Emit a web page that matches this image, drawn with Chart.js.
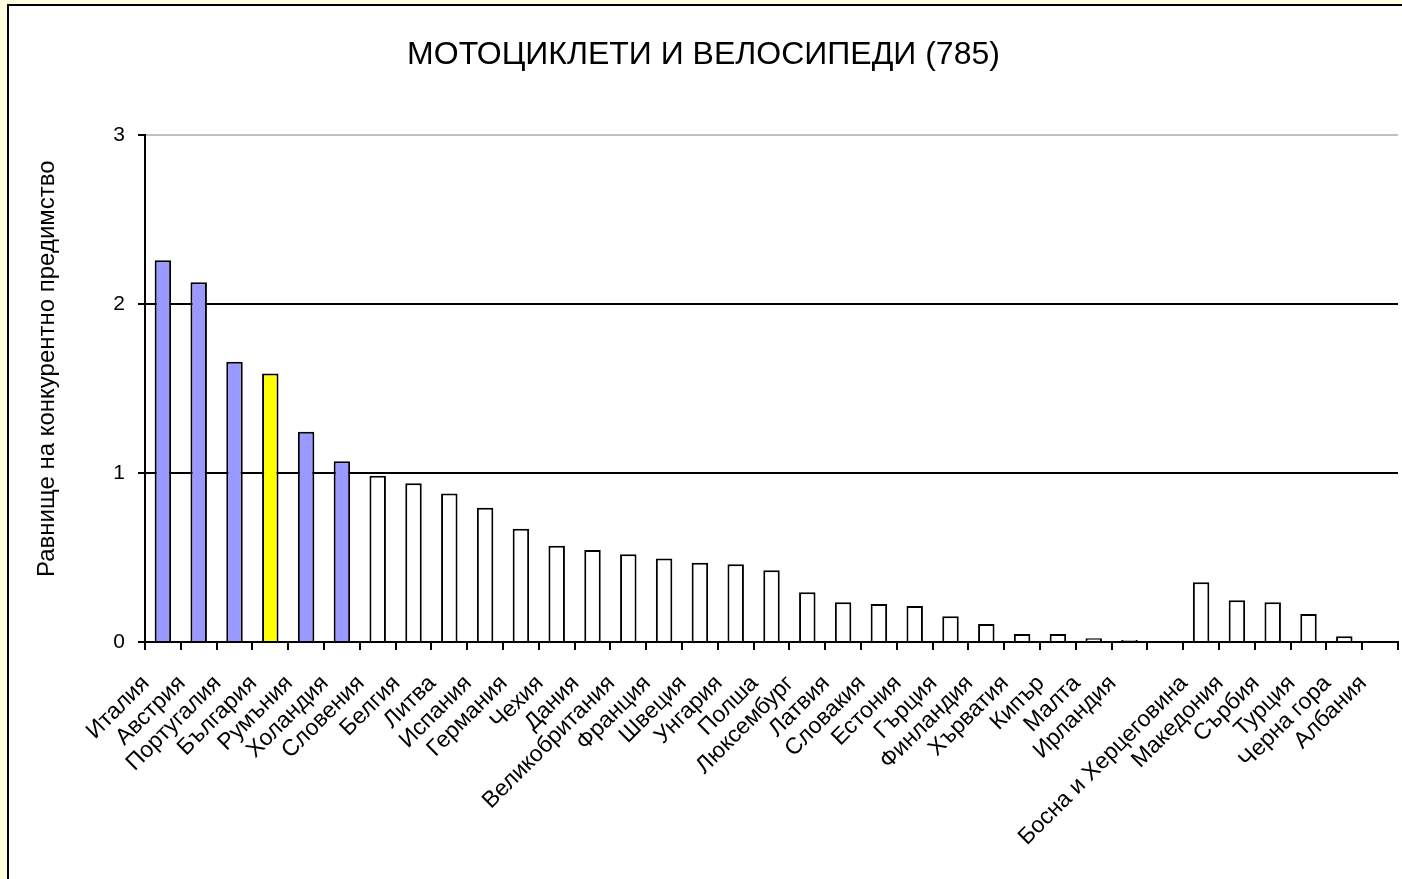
<!DOCTYPE html>
<html>
<head>
<meta charset="utf-8">
<script src="https://cdn.jsdelivr.net/npm/chart.js@4.4.1/dist/chart.umd.min.js"></script>
<style>
  html, body { margin: 0; padding: 0; background: #FFFFE0; }
  canvas { display: block; }
</style>
</head>
<body>
<canvas id="c" width="1402" height="879"></canvas>
<script>
// ---- data ----
const chartTitle = 'МОТОЦИКЛЕТИ И ВЕЛОСИПЕДИ (785)';
const yAxisTitle = 'Равнище на конкурентно предимство';
const categories = ['Италия','Австрия','Португалия','България','Румъния','Холандия','Словения','Белгия','Литва','Испания','Германия','Чехия','Дания','Великобритания','Франция','Швеция','Унгария','Полша','Люксембург','Латвия','Словакия','Естония','Гърция','Финландия','Хърватия','Кипър','Малта','Ирландия','','Босна и Херцеговина','Македония','Сърбия','Турция','Черна гора','Албания'];
const values = [2.26,2.13,1.66,1.59,1.245,1.07,0.985,0.94,0.88,0.795,0.67,0.57,0.545,0.52,0.495,0.47,0.46,0.425,0.295,0.235,0.225,0.213,0.152,0.107,0.047,0.047,0.022,0.012,null,0.354,0.247,0.235,0.166,0.034,null];
const leaders = ['Италия','Австрия','Португалия','Румъния','Холандия'];
const focusCountry = 'България';
const yTicks = [0, 1, 2, 3];

const barColors = categories.map(c => c === focusCountry ? '#FFFF00' : (leaders.includes(c) ? '#9999FF' : '#FFFFFF'));
const FONT = 'Liberation Sans, Arial, sans-serif';

const framePlugin = {
  id: 'frame',
  beforeDraw(chart) {
    const ctx = chart.ctx;
    ctx.save();
    ctx.fillStyle = '#FFFFE0';
    ctx.fillRect(0, 0, chart.width, chart.height);
    ctx.fillStyle = '#FFFFFF';
    ctx.fillRect(9, 6, chart.width - 9, chart.height - 6);
    ctx.fillStyle = '#000000';
    ctx.fillRect(7, 4, 2, chart.height - 4);
    ctx.fillRect(7, 4, chart.width - 7, 2);
    ctx.restore();
  }
};

new Chart(document.getElementById('c'), {
  type: 'bar',
  data: {
    labels: categories,
    datasets: [{
      data: values,
      backgroundColor: barColors,
      borderColor: '#000000',
      borderWidth: 2,
      borderSkipped: 'start',
      barPercentage: 0.46,
      categoryPercentage: 1.0
    }]
  },
  options: {
    responsive: false,
    animation: false,
    devicePixelRatio: 1,
    layout: { padding: { left: 9, top: 6, right: 4, bottom: 0 } },
    plugins: {
      legend: { display: false },
      tooltip: { enabled: false },
      title: {
        display: true,
        text: chartTitle,
        color: '#000',
        font: { family: FONT, size: 32, weight: 'normal' },
        padding: { top: 30, bottom: 61 }
      }
    },
    scales: {
      x: {
        offset: true,
        afterFit(scale) {
          scale.height = 879 - 642;
          scale.paddingRight = 0;
          scale.paddingLeft = 0;
        },
        grid: {
          display: true,
          offset: true,
          drawOnChartArea: false,
          drawTicks: true,
          tickLength: 8,
          color: '#000',
          tickColor: '#000',
          lineWidth: 2
        },
        border: { display: true, color: '#000', width: 2 },
        ticks: {
          autoSkip: false,
          maxRotation: 45,
          minRotation: 45,
          labelOffset: -17,
          padding: 20,
          color: '#000',
          font: { family: FONT, size: 23 }
        }
      },
      y: {
        min: 0,
        max: 3,
        afterFit(scale) { scale.width = 145 - 9; },
        afterBuildTicks(scale) { scale.ticks = yTicks.map(v => ({ value: v })); },
        grid: {
          color: (ctx) => (ctx.tick && ctx.tick.value === 3) ? '#C0C0C0' : '#000000',
          tickColor: '#000',
          lineWidth: 2,
          tickLength: 7
        },
        border: { display: true, color: '#000', width: 2 },
        ticks: {
          padding: 13,
          color: '#000',
          font: { family: FONT, size: 21 }
        },
        title: {
          display: true,
          text: '      ' + yAxisTitle,
          color: '#000',
          font: { family: FONT, size: 24 },
          padding: { top: 24, bottom: 0 }
        }
      }
    }
  },
  plugins: [framePlugin]
});
</script>
</body>
</html>
